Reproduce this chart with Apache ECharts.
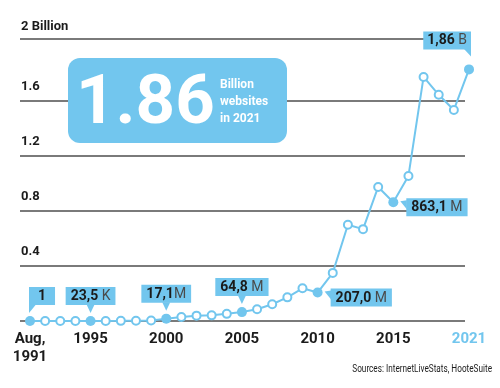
<!DOCTYPE html>
<html>
<head>
<meta charset="utf-8">
<script src="https://cdn.jsdelivr.net/npm/echarts@6/dist/echarts.min.js"></script>
<style>
html,body{margin:0;padding:0;background:#fff;}
#chart{width:500px;height:388px;}
</style>
</head>
<body>
<div id="chart"></div>
<script>
// ---- data ----
const categories = ['1991','1992','1993','1994','1995','1996','1997','1998','1999','2000',
  '2001','2002','2003','2004','2005','2006','2007','2008','2009','2010',
  '2011','2012','2013','2014','2015','2016','2017','2018','2019','2021'];
// number of websites, in billions
const websites = [0.000000001, 0.00000001, 0.00000013, 0.0000027, 0.0000235, 0.00026, 0.0011, 0.0024, 0.0032, 0.0171,
  0.029, 0.039, 0.041, 0.052, 0.0648, 0.0855, 0.122, 0.172, 0.238, 0.207,
  0.350, 0.700, 0.668, 0.975, 0.8631, 1.055, 1.775, 1.645, 1.535, 1.83];
const tickYears = ['1991','1995','2000','2005','2010','2015','2021'];
const tickTexts = ['Aug,\n1991','1995','2000','2005','2010','2015','2021'];
const gridValues = [0, 0.4, 0.8, 1.2, 1.6];
const topLineLabel = '2 Billion';
const calloutYears = ['1991','1995','2000','2005','2010','2015','2021'];
const calloutNumbers = ['1','23,5','17,1','64,8','207,0','863,1','1,86'];
const calloutUnits = ['',' K','M',' M',' M',' M',' B'];
const headlineValue = '1.86';
const headlineText = 'Billion\nwebsites\nin 2021';
const sourceText = 'Sources: InternetLiveStats, HooteSuite';

// ---- styles ----
const BLUE = '#72C6EE';
const GRIDC = '#7a7a7a';
const TXT = '#1b1b1b';
const FONT = 'Roboto, "Noto Sans", sans-serif';
const calloutPlacement = ['upLeft','up','up','up','right','right','upRight'];

const chart = echarts.init(document.getElementById('chart'), null, {renderer:'canvas'});

const seriesData = websites.map((v, i) => {
  const filled = calloutYears.indexOf(categories[i]) >= 0;
  return filled
    ? {value: v, symbolSize: 10, itemStyle: {color: BLUE, borderWidth: 0}}
    : {value: v};
});

const calloutData = calloutYears.map(y => [y, websites[categories.indexOf(y)]]);

function renderCallout(params, api) {
  const i = params.dataIndex;
  const p = api.coord([api.value(0), api.value(1)]);
  const place = calloutPlacement[i];
  const text = '{b|' + calloutNumbers[i] + '}' + (calloutUnits[i] ? '{u|' + calloutUnits[i] + '}' : '');
  const style = {
    text: text,
    backgroundColor: BLUE,
    padding: [2, 5, 1, 5],
    rich: {
      b: {fontFamily: FONT, fontWeight: 'bold', fontSize: 14, lineHeight: 15, fill: TXT},
      u: {fontFamily: FONT, fontWeight: 'normal', fontSize: 14, lineHeight: 15, fill: '#4a4a4a'}
    }
  };
  let tx, ty, pts;
  if (place === 'up') {
    const bb = p[1] - 16;
    tx = p[0]; ty = bb; style.align = 'center'; style.verticalAlign = 'bottom';
    pts = [[p[0] - 4, bb - 0.5], [p[0] + 4, bb - 0.5], [p[0], bb + 8]];
  } else if (place === 'upLeft') {
    const bb = p[1] - 16; const bx = p[0] - 1;
    tx = bx; ty = bb; style.align = 'left'; style.verticalAlign = 'bottom';
    style.padding = [2, 9, 1, 9];
    pts = [[bx, bb - 0.5], [bx + 7, bb - 0.5], [bx, bb + 8]];
  } else if (place === 'upRight') {
    const bb = p[1] - 20; const bx = p[0] + 2;
    tx = bx; ty = bb; style.align = 'right'; style.verticalAlign = 'bottom';
    style.padding = [2, 4, 1, 4];
    pts = [[bx, bb - 0.5], [bx - 7, bb - 0.5], [bx, bb + 7]];
  } else { // right
    const bx = p[0] + 13; const by = p[1] - 4;
    tx = bx; ty = by; style.align = 'left'; style.verticalAlign = 'top';
    pts = [[bx + 0.5, by + 2], [bx + 0.5, by + 11], [bx - 6, by + 3]];
  }
  return {
    type: 'group',
    children: [
      {type: 'polygon', shape: {points: pts}, style: {fill: BLUE}},
      {type: 'text', x: tx, y: ty, style: style}
    ]
  };
}

const option = {
  animation: false,
  backgroundColor: '#fff',
  textStyle: {fontFamily: FONT},
  grid: [
    {left: 30, right: 31, top: 46, bottom: 67},   // data
    {left: 20, right: 35, top: 101, bottom: 67},  // gridlines 0..1.6
    {left: 20, right: 35, top: 39, height: 1}     // "2 Billion" line
  ],
  xAxis: [
    {
      type: 'category', gridIndex: 0, data: categories, boundaryGap: false,
      axisLine: {show: false}, axisTick: {show: false}, splitLine: {show: false},
      axisLabel: {
        interval: (idx, val) => tickYears.indexOf(val) >= 0,
        formatter: (val) => tickTexts[tickYears.indexOf(val)],
        margin: 9, fontFamily: FONT, fontWeight: 'bold', fontSize: 15, lineHeight: 18,
        color: (val) => val === '2021' ? BLUE : TXT
      }
    },
    {type: 'value', gridIndex: 1, show: false},
    {type: 'value', gridIndex: 2, show: false}
  ],
  yAxis: [
    {type: 'value', gridIndex: 0, min: 0, max: 2, interval: 0.4, show: false},
    {
      type: 'value', gridIndex: 1, min: 0, max: 1.6, interval: 0.4,
      axisLine: {show: false}, axisTick: {show: false},
      splitLine: {show: true, showMinLine: true, showMaxLine: true, lineStyle: {color: GRIDC, width: 2}},
      axisLabel: {
        inside: true, margin: 1, verticalAlign: 'bottom', padding: [0, 0, 8, 0],
        showMinLabel: false,
        formatter: (v) => (v === 0 ? '' : v.toFixed(1)),
        fontFamily: FONT, fontWeight: 'bold', fontSize: 13, color: TXT
      }
    },
    {
      type: 'value', gridIndex: 2, min: 0, max: 1, interval: 1,
      axisLine: {show: false}, axisTick: {show: false},
      splitLine: {show: true, showMinLine: false, showMaxLine: true, lineStyle: {color: GRIDC, width: 2}},
      axisLabel: {
        inside: true, margin: 1, verticalAlign: 'bottom', padding: [0, 0, 6, 0],
        showMinLabel: false,
        formatter: (v) => (v === 1 ? topLineLabel : ''),
        fontFamily: FONT, fontWeight: 'bold', fontSize: 13, color: TXT
      }
    }
  ],
  graphic: [
    {type: 'rect', z: 100, shape: {x: 68, y: 58, width: 219, height: 85, r: 12}, style: {fill: BLUE}},
    {type: 'text', z: 101, x: 76, y: 106, style: {text: headlineValue, fill: '#fff', font: 'bold 69px ' + FONT, verticalAlign: 'middle', align: 'left'}},
    {type: 'text', z: 101, x: 220, y: 76, style: {text: headlineText, fill: '#fff', fontFamily: FONT, fontWeight: 'bold', fontSize: 12, lineHeight: 17, verticalAlign: 'top', align: 'left'}},
    {type: 'text', z: 101, x: 492, y: 369, scaleX: 0.82, style: {text: sourceText, fill: TXT, fontFamily: FONT, fontSize: 10, align: 'right', verticalAlign: 'middle'}}
  ],
  series: [
    {
      type: 'line', xAxisIndex: 0, yAxisIndex: 0, data: seriesData,
      clip: false, z: 3,
      lineStyle: {color: BLUE, width: 2},
      symbol: 'circle', symbolSize: 8, showAllSymbol: true,
      itemStyle: {color: '#fff', borderColor: BLUE, borderWidth: 2}
    },
    {
      type: 'custom', xAxisIndex: 0, yAxisIndex: 0, coordinateSystem: 'cartesian2d',
      data: calloutData, clip: false, z: 5, renderItem: renderCallout
    }
  ]
};
chart.setOption(option);
</script>
</body>
</html>
